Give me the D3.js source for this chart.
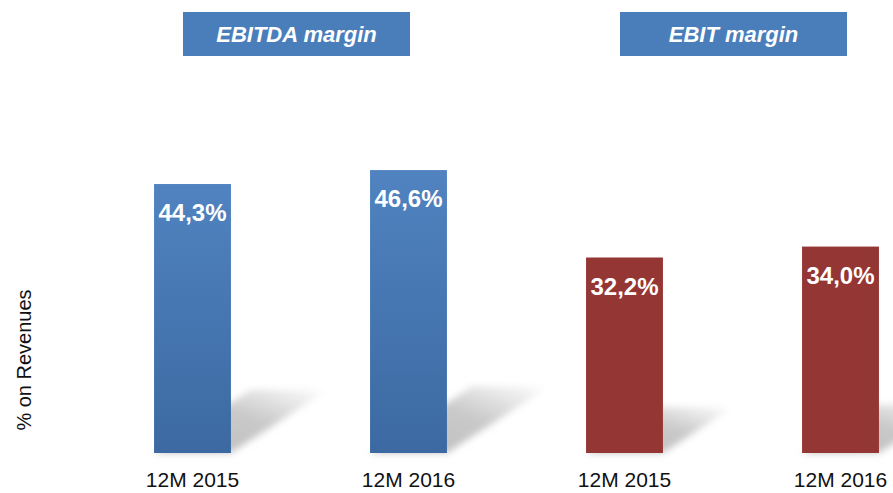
<!DOCTYPE html>
<meta charset="utf-8">
<style>
body { margin: 0; background: #fff; font-family: 'Liberation Sans', Arial, sans-serif; }
</style>
<body>
<svg class="chart"></svg>
<script src="https://d3js.org/d3.v7.min.js"></script>
<script>
// chart size
let rwidth = 893, rheight = 493;

// data
let groups = ['EBITDA margin', 'EBIT margin'];
let categories = ['12M 2015', '12M 2016', '12M 2015', '12M 2016'];
let barGroup = [0, 0, 1, 1];
let values = [44.3, 46.6, 32.2, 34.0];

// colours
let blueTop = '#5083c0', blueBottom = '#3c69a1', red = '#943634', headerBlue = '#4a7ebb';

let svg = d3.select('.chart').attr('width', rwidth).attr('height', rheight);

// comma decimals
let fmt = d3.formatLocale({decimal: ',', thousands: '.', grouping: [3], currency: ['', '%']}).format('.1f');

let xscale = d3.scaleBand()
  .domain(d3.range(values.length))
  .range([84.5, 948.5])
  .paddingInner(0.644)
  .paddingOuter(0.322);

let yscale = d3.scaleLinear().domain([0, 70]).range([453, 28]);

let defs = svg.append('defs');

let grad = defs.append('linearGradient').attr('id', 'blueGrad')
  .attr('x1', 0).attr('y1', 0).attr('x2', 0).attr('y2', 1);
grad.append('stop').attr('offset', '0%').attr('stop-color', blueTop);
grad.append('stop').attr('offset', '100%').attr('stop-color', blueBottom);

let shGrad = defs.append('linearGradient').attr('id', 'shadowGrad')
  .attr('x1', 0).attr('y1', 1).attr('x2', 1).attr('y2', 0);
shGrad.append('stop').attr('offset', '0%').attr('stop-color', '#bdbdbd');
shGrad.append('stop').attr('offset', '55%').attr('stop-color', '#c9c9c9');
shGrad.append('stop').attr('offset', '100%').attr('stop-color', '#ffffff');

defs.append('filter').attr('id', 'blur')
  .attr('x', '-20%').attr('y', '-20%').attr('width', '140%').attr('height', '140%')
  .append('feGaussianBlur').attr('stdDeviation', 3.5);

// floor shadows (drawn first, bars cover the back part)
svg.selectAll('.shadow')
  .data(values)
  .join('path')
  .attr('class', 'shadow')
  .attr('d', (d, i) => {
    let x0 = xscale(i), x1 = xscale(i) + xscale.bandwidth();
    let y0 = yscale(0), h = yscale(0) - yscale(d);
    let dx = h * 0.36, dy = h * 0.235;
    return `M${x0},${y0} L${x1},${y0} L${x1 + dx},${y0 - dy} L${x0 + dx},${y0 - dy} Z`;
  })
  .attr('fill', 'url(#shadowGrad)')
  .attr('filter', 'url(#blur)');

// bars
svg.selectAll('.bar')
  .data(values)
  .join('rect')
  .attr('class', 'bar')
  .attr('x', (d, i) => xscale(i))
  .attr('y', d => yscale(d))
  .attr('width', xscale.bandwidth())
  .attr('height', d => yscale(0) - yscale(d))
  .attr('fill', (d, i) => barGroup[i] == 0 ? 'url(#blueGrad)' : red);

// value labels inside bars
svg.selectAll('.val')
  .data(values)
  .join('text')
  .attr('class', 'val')
  .attr('x', (d, i) => xscale(i) + xscale.bandwidth() / 2)
  .attr('y', d => yscale(d) + 37)
  .attr('text-anchor', 'middle')
  .style('font-size', '24px')
  .style('font-weight', 'bold')
  .style('fill', '#fff')
  .text(d => fmt(d) + '%');

// category labels
svg.selectAll('.cat')
  .data(categories)
  .join('text')
  .attr('class', 'cat')
  .attr('x', (d, i) => xscale(i) + xscale.bandwidth() / 2)
  .attr('y', 487)
  .attr('text-anchor', 'middle')
  .style('font-size', '21px')
  .style('fill', '#111')
  .text(d => d);

// header boxes
let boxW = 227, boxH = 44;

let heads = svg.selectAll('.head')
  .data(groups)
  .join('g')
  .attr('class', 'head')
  .attr('transform', (d, i) => {
    let c = d3.mean(values.map((v, j) => j).filter(j => barGroup[j] == i),
      j => xscale(j) + xscale.bandwidth() / 2);
    return `translate(${c - 4 + i * 5},12)`;
  });

heads.append('rect')
  .attr('x', -boxW / 2).attr('y', 0)
  .attr('width', boxW).attr('height', boxH)
  .attr('fill', headerBlue);

heads.append('text')
  .attr('x', 0).attr('y', 30)
  .attr('text-anchor', 'middle')
  .style('font-size', '22px')
  .style('font-weight', 'bold')
  .style('font-style', 'italic')
  .style('fill', '#fff')
  .text(d => d);

// y axis title
svg.append('text')
  .attr('transform', 'translate(31,360) rotate(-90)')
  .attr('text-anchor', 'middle')
  .style('font-size', '20px')
  .style('fill', '#111')
  .text('% on Revenues');
</script>
</body>
